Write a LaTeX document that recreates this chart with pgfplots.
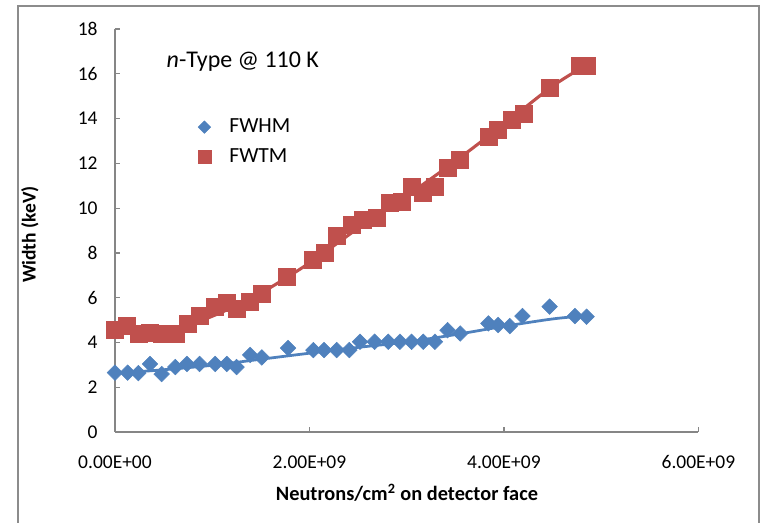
\documentclass[border=0pt]{standalone}
\usepackage{fontspec}
\setmainfont{Carlito}
\usepackage{pgfplots}
\pgfplotsset{compat=1.18}
\definecolor{fwhm}{RGB}{79,129,189}
\definecolor{fwtm}{RGB}{192,80,77}
\definecolor{axgray}{RGB}{134,134,134}
\definecolor{framegray}{RGB}{140,140,140}
\begin{document}
\begin{tikzpicture}
\useasboundingbox (-66.7pt,-52.78pt) rectangle (374.7pt,250.56pt);
\begin{axis}[
 at={(0pt,0pt)}, anchor=south west,
 scale only axis, width=338.4pt, height=233.7pt,
 xmin=0, xmax=6, ymin=0, ymax=18,
 axis x line*=bottom, axis y line*=left,
 axis line style={axgray, line width=0.7pt, -},
 tick align=inside, major tick length=2.9pt,
 tick style={axgray, line width=0.7pt},
 xtick={0,2,4,6}, xticklabels={0.00E+00,2.00E+09,4.00E+09,6.00E+09},
 ytick={0,2,...,18},
 /pgf/number format/assume math mode=true,
 tick label style={font=\fontsize{11.3}{13}\selectfont, black},
 xticklabel style={yshift=-10.3pt},
 yticklabel style={xshift=-6.6pt},
 clip=false,
 legend style={at={(axis description cs:0.1385,0.7780)}, anchor=north west, draw=none, fill=none, inner sep=0pt, outer sep=0pt, row sep=7.4pt, column sep=9.5pt, nodes={inner sep=0pt}, font=\fontsize{12.5}{14}\selectfont},
 legend cell align=left,
 legend image code/.code={\path[draw=none,fill=none] (-5pt,-5pt) rectangle (5pt,5pt); \draw[#1] plot coordinates {(0pt,0pt)};},
]
\addlegendimage{only marks, mark=square*, mark size=2.55pt, mark options={rotate=45, fill=fwhm, draw=fwhm, line width=0.3pt}}
\addlegendentry{FWHM}
\addlegendimage{only marks, mark=square*, mark size=3.77pt, mark options={fill=fwtm, draw=fwtm, line width=0.3pt}}
\addlegendentry{FWTM}

% FWHM data (x in units of 1e9 neutrons/cm^2)
\addplot[only marks, mark=square*, mark size=3.2pt, mark options={rotate=45, fill=fwhm, draw=fwhm, line width=0.3pt}, forget plot] coordinates {
(0.00,2.65) (0.13,2.65) (0.24,2.63) (0.36,3.04) (0.48,2.59) (0.62,2.90)
(0.74,3.04) (0.87,3.04) (1.03,3.04) (1.15,3.04) (1.25,2.90) (1.39,3.44)
(1.51,3.33) (1.78,3.75) (2.04,3.66) (2.15,3.66) (2.28,3.66) (2.41,3.66)
(2.52,4.03) (2.67,4.03) (2.81,4.03) (2.93,4.03) (3.05,4.03) (3.17,4.03)
(3.29,4.03) (3.42,4.55) (3.55,4.40) (3.84,4.85) (3.94,4.78) (4.06,4.73)
(4.19,5.18) (4.47,5.60) (4.73,5.18) (4.85,5.15)
};
% FWTM data
\addplot[only marks, mark=square*, mark size=4.93pt, mark options={fill=fwtm, draw=fwtm, line width=0.3pt}, forget plot] coordinates {
(0.00,4.55) (0.12,4.73) (0.24,4.40) (0.36,4.42) (0.48,4.40) (0.62,4.40)
(0.75,4.85) (0.87,5.18) (1.03,5.59) (1.15,5.77) (1.25,5.50) (1.39,5.82)
(1.51,6.19) (1.77,6.92) (2.03,7.68) (2.16,8.00) (2.28,8.75) (2.44,9.24)
(2.55,9.46) (2.69,9.55) (2.83,10.22) (2.95,10.27) (3.05,10.94) (3.17,10.67)
(3.29,10.94) (3.42,11.79) (3.55,12.14) (3.84,13.17) (3.94,13.48) (4.08,13.93)
(4.20,14.20) (4.47,15.40) (4.78,16.34) (4.85,16.34)
};
% trend lines
\addplot[fwhm, line width=1.6pt, smooth, no markers, forget plot] coordinates {
(0,2.62) (0.5,2.78) (1.0,2.98) (1.5,3.25) (2.0,3.52) (2.5,3.78) (3.0,4.02) (3.5,4.35) (4.0,4.72) (4.5,5.05) (4.85,5.2)
};
\addplot[fwtm, line width=1.8pt, smooth, no markers, forget plot] coordinates {
(0,4.55) (0.3,4.5) (0.6,4.6) (0.9,5.0) (1.2,5.55) (1.5,6.2) (2.0,7.55) (2.5,9.1) (3.0,10.55) (3.5,12.1) (4.0,13.75) (4.5,15.45) (4.85,16.4)
};
\node[anchor=west, inner sep=0pt, font=\fontsize{13.9}{16}\selectfont] at (axis description cs:0.088,0.919) {\textit{n}-Type @ 110~K};
\node[rotate=90, font=\bfseries\fontsize{11.3}{13}\selectfont] at (axis description cs:-0.1457,0.49) {Width (keV)};
\node[font=\bfseries\fontsize{11.8}{14}\selectfont] at (axis description cs:0.5004,-0.151) {Neutrons/cm\textsuperscript{2} on detector face};
\end{axis}
\draw[framegray, line width=1.2pt] (-56.4pt,-52.78pt) -- (-56.4pt,247.1pt) -- (373.5pt,247.1pt) -- (373.5pt,-52.78pt);
\end{tikzpicture}
\end{document}
